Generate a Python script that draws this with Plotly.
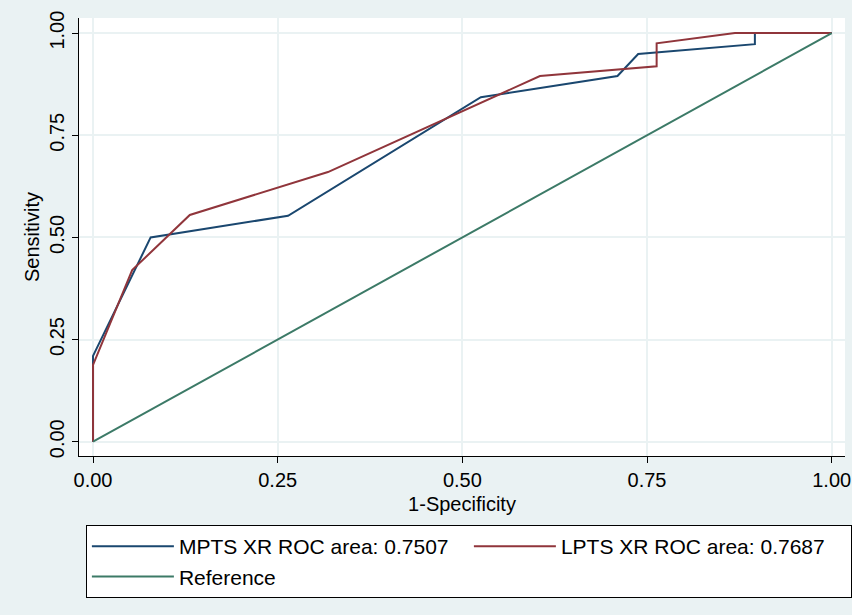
import plotly.graph_objects as go

# MPTS XR ROC curve (1-specificity, sensitivity)
mpts_fpr = [0.0, 0.0, 0.078, 0.264, 0.525, 0.710, 0.738, 0.896, 0.896, 1.0]
mpts_tpr = [0.0, 0.21, 0.50, 0.553, 0.843, 0.895, 0.949, 0.973, 1.0, 1.0]

# LPTS XR ROC curve
lpts_fpr = [0.0, 0.0, 0.053, 0.131, 0.318, 0.605, 0.763, 0.763, 0.869, 1.0]
lpts_tpr = [0.0, 0.188, 0.42, 0.555, 0.66, 0.895, 0.919, 0.975, 1.0, 1.0]

# Reference line
ref_x = [0.0, 1.0]
ref_y = [0.0, 1.0]

names = ["MPTS XR ROC area: 0.7507", "LPTS XR ROC area: 0.7687", "Reference"]
colors = ["#1A476F", "#90353B", "#3C7A67"]

tick_vals = [0.0, 0.25, 0.5, 0.75, 1.0]
tick_text = ["0.00", "0.25", "0.50", "0.75", "1.00"]

FONT = "Liberation Sans, Arial, sans-serif"
BG = "#EAF2F3"

fig = go.Figure()
for xs, ys, nm, c in [(mpts_fpr, mpts_tpr, names[0], colors[0]),
                      (lpts_fpr, lpts_tpr, names[1], colors[1]),
                      (ref_x, ref_y, names[2], colors[2])]:
    fig.add_trace(go.Scatter(x=xs, y=ys, mode="lines", name=nm,
                             line=dict(color=c, width=2)))

axis_common = dict(
    tickvals=tick_vals, ticktext=tick_text,
    showgrid=True, gridcolor=BG, gridwidth=1.5,
    zeroline=False, showline=True, linecolor="black", linewidth=1.2,
    ticks="outside", ticklen=6, tickcolor="black", tickwidth=1.2,
    tickfont=dict(family=FONT, size=20, color="black"),
    mirror=False, automargin=False,
)

fig.update_layout(
    width=852, height=615,
    paper_bgcolor=BG, plot_bgcolor="white",
    margin=dict(l=79, r=7, t=18, b=159, autoexpand=False),
    font=dict(family=FONT, size=20, color="black"),
    xaxis=dict(range=[-0.019, 1.018], title=dict(text="1-Specificity", font=dict(size=20), standoff=6),
               **axis_common),
    yaxis=dict(range=[-0.035, 1.037], title=dict(text="Sensitivity", font=dict(size=20), standoff=0),
               tickangle=-90, **axis_common),
    legend=dict(orientation="h", x=0.009, xanchor="left", y=-0.1575, yanchor="top",
                bgcolor="white", bordercolor="black", borderwidth=1,
                font=dict(family=FONT, size=21, color="black"),
                entrywidth=285, entrywidthmode="pixels", itemwidth=82,
                tracegroupgap=0),
    showlegend=True,
)

fig.write_html(
    "out.html",
    config={"displayModeBar": False},
    post_script="document.body.style.margin='0';document.body.style.backgroundColor='#EAF2F3';",
)
